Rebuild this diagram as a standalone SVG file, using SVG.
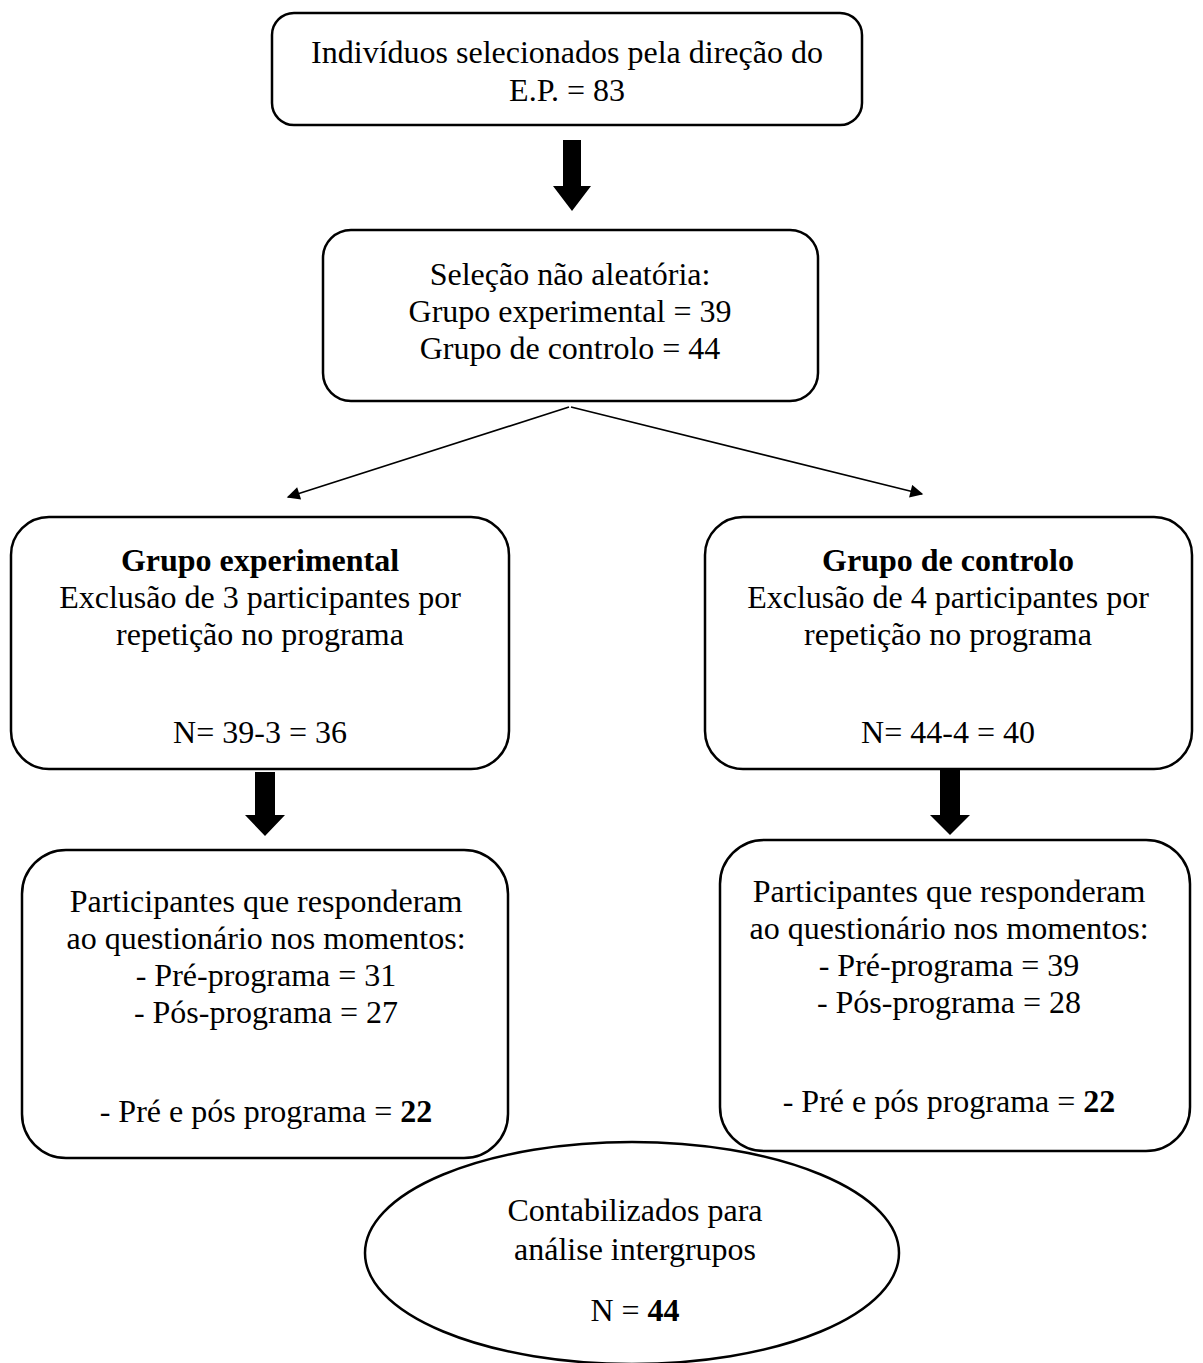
<svg xmlns="http://www.w3.org/2000/svg" width="1203" height="1363" viewBox="0 0 1203 1363">
<defs>
<style>
.box{fill:#fff;stroke:#000;stroke-width:2.5}
.t{font-family:"Liberation Serif","Times New Roman",serif;font-size:32px;fill:#000;text-anchor:middle}
.b{font-weight:bold}
.thin{stroke:#000;stroke-width:1.6;fill:none}
.fat{fill:#000}
</style>
<marker id="ah" viewBox="0 0 10 10" refX="9" refY="5" markerWidth="15" markerHeight="13" markerUnits="userSpaceOnUse" orient="auto"><path d="M0,0 L10,5 L0,10 z" fill="#000"/></marker>
</defs>
<rect width="1203" height="1363" fill="#fff"/>
<g id="connectors">
<path class="fat" d="M563,140 h18 v46 h10 l-19,25 l-19,-25 h10 z"/>
<line class="thin" x1="569" y1="407" x2="288" y2="497" marker-end="url(#ah)"/>
<line class="thin" x1="571" y1="407" x2="922" y2="494" marker-end="url(#ah)"/>
<path class="fat" d="M255,772 h20 v43 h10 l-20,21 l-20,-21 h10 z"/>
<path class="fat" d="M940,768 h20 v47 h10 l-20,20 l-20,-20 h10 z"/>
</g>
<g id="n1">
<rect class="box" x="272" y="13" width="590" height="112" rx="22"/>
<text class="t" x="567" y="63">Indivíduos selecionados pela direção do</text>
<text class="t" x="567" y="101">E.P. = 83</text>
</g>
<g id="n2">
<rect class="box" x="323" y="230" width="495" height="171" rx="28"/>
<text class="t" x="570" y="285">Seleção não aleatória:</text>
<text class="t" x="570" y="322">Grupo experimental = 39</text>
<text class="t" x="570" y="359">Grupo de controlo = 44</text>
</g>
<g id="n3">
<rect class="box" x="11" y="517" width="498" height="252" rx="38"/>
<text class="t b" x="260" y="571">Grupo experimental</text>
<text class="t" x="260" y="608">Exclusão de 3 participantes por</text>
<text class="t" x="260" y="645">repetição no programa</text>
<text class="t" x="260" y="743">N= 39-3 = 36</text>
</g>
<g id="n4">
<rect class="box" x="705" y="517" width="487" height="252" rx="38"/>
<text class="t b" x="948" y="571">Grupo de controlo</text>
<text class="t" x="948" y="608">Exclusão de 4 participantes por</text>
<text class="t" x="948" y="645">repetição no programa</text>
<text class="t" x="948" y="743">N= 44-4 = 40</text>
</g>
<g id="n5">
<rect class="box" x="22" y="850" width="486" height="308" rx="44"/>
<text class="t" x="266" y="912">Participantes que responderam</text>
<text class="t" x="266" y="949">ao questionário nos momentos:</text>
<text class="t" x="266" y="986">- Pré-programa = 31</text>
<text class="t" x="266" y="1023">- Pós-programa = 27</text>
<text class="t" x="266" y="1122">- Pré e pós programa = <tspan class="b">22</tspan></text>
</g>
<g id="n6">
<rect class="box" x="720" y="840" width="470" height="311" rx="44"/>
<text class="t" x="949" y="902">Participantes que responderam</text>
<text class="t" x="949" y="939">ao questionário nos momentos:</text>
<text class="t" x="949" y="976">- Pré-programa = 39</text>
<text class="t" x="949" y="1013">- Pós-programa = 28</text>
<text class="t" x="949" y="1112">- Pré e pós programa = <tspan class="b">22</tspan></text>
</g>
<g id="n7">
<ellipse class="box" cx="632" cy="1253" rx="267" ry="111"/>
<text class="t" x="635" y="1221">Contabilizados para</text>
<text class="t" x="635" y="1260">análise intergrupos</text>
<text class="t" x="635" y="1321">N = <tspan class="b">44</tspan></text>
</g>
</svg>
